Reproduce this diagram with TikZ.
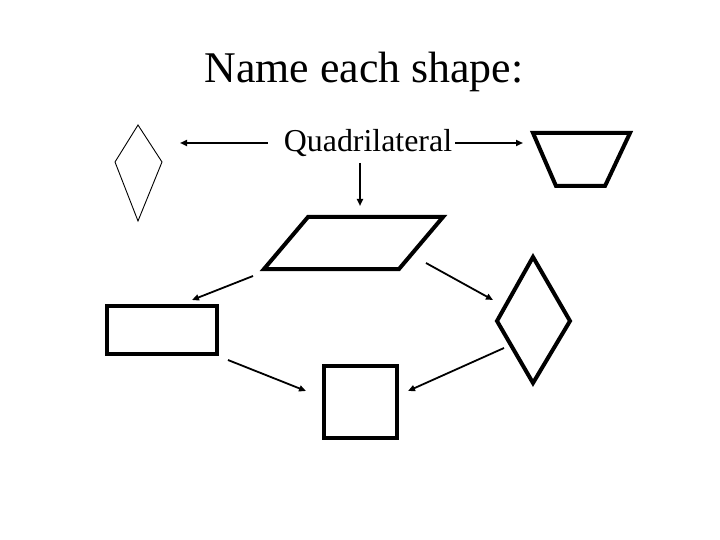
\documentclass[tikz,border=0pt]{standalone}
\usepackage{fontspec}
\setmainfont{Liberation Serif}
\usetikzlibrary{arrows.meta,positioning}

\begin{document}
\begin{tikzpicture}[
      x=1bp, y=-1bp,
      thinshape/.style={draw, line width=0.9bp, line join=miter},
      thickshape/.style={draw, line width=4bp, line join=miter},
      link/.style={draw, -{Triangle[length=7bp,width=6bp]}, line width=1.8bp},
      label/.style={inner sep=0pt, font=\fontsize{32}{36}\selectfont},
    ]
    \useasboundingbox (0,0) rectangle (720,540);
    \node[inner sep=0pt, font=\fontsize{44}{50}\selectfont] (title) at (364,72) {Name each shape:};
    \node[label] (quad) at (368,143) {Quadrilateral};

    % shapes
    \draw[thinshape] (138,125) -- (162,162) -- (138,221) -- (115,162) -- cycle;
    \draw[thickshape] (533,133) -- (630,133) -- (605,186) -- (556,186) -- cycle;
    \draw[thickshape] (308,217) -- (443,217) -- (399,269) -- (264,269) -- cycle;
    \draw[thickshape] (107,306) rectangle (217,354);
    \draw[thickshape] (324,366) rectangle (397,438);
    \draw[thickshape] (533,257) -- (570,321) -- (533,383) -- (497,321) -- cycle;

    % arrow ends
    \coordinate (kite) at (180,143);
    \coordinate (trap) at (523,143);
    \coordinate (para) at (360,206);
    \coordinate (paraL) at (253,276);
    \coordinate (paraR) at (426,263);
    \coordinate (rect) at (192,300);
    \coordinate (rectO) at (228,360);
    \coordinate (rhomb) at (493,300);
    \coordinate (rhombO) at (504,348);
    \coordinate (sqL) at (306,391);
    \coordinate (sqR) at (408,391);

    \draw[link] (quad.west) ++(-16,0) -- (kite);
    \draw[link] (quad.east) ++(3,0) -- (trap);
    \draw[link] (360,163) -- (para);
    \draw[link] (paraL) -- (rect);
    \draw[link] (paraR) -- (rhomb);
    \draw[link] (rectO) -- (sqL);
    \draw[link] (rhombO) -- (sqR);
  \end{tikzpicture}
\end{document}
